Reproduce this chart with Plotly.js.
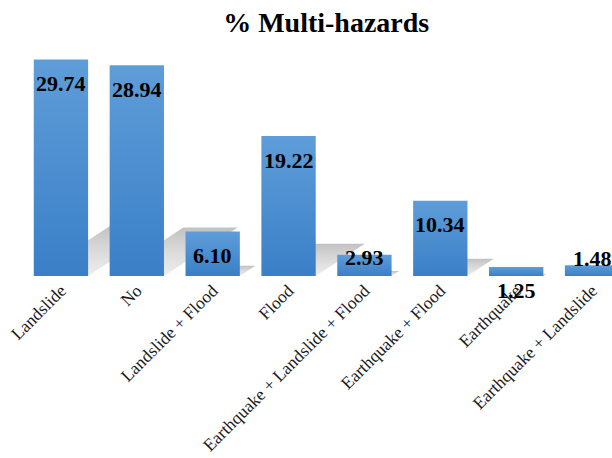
<!DOCTYPE html>
<html>
<head>
<meta charset="utf-8">
<script src="https://cdn.plot.ly/plotly-3.0.1.min.js"></script>
<style>
  html, body { margin: 0; padding: 0; background: #fff; }
  #chart { width: 612px; height: 458px; }
</style>
</head>
<body>
<div id="chart"></div>
<script>
// Share of each hazard combination (%)
const categories = [
  'Landslide',
  'No',
  'Landslide + Flood',
  'Flood',
  'Earthquake + Landslide + Flood',
  'Earthquake + Flood',
  'Earthquake',
  'Earthquake + Landslide'
];
const percentValues = [29.74, 28.94, 6.10, 19.22, 2.93, 10.34, 1.25, 1.48];

// Vertical nudge (px) of each value label relative to the bar top
const labelShift = [-24, -24, -24, -24, -3, -24, -24, 7];

const xIndex = categories.map((_, i) => i);
const barWidth = 0.716;
const xRange = [-0.5, 7.263];
const yRange = [0, 32];
const serif = 'Liberation Serif, Times New Roman, serif';

// Floor shadows: each bar's outline skewed to the right and flattened.
// They live on the base axes so the bars (on the overlay axes) sit above them.
const shadowSkew = 0.0336;   // x-units of slant per unit of value
const shadowHeight = 0.23;   // fraction of bar height
const shadowTraces = percentValues.map((v, i) => {
  const x0 = i - barWidth / 2, x1 = i + barWidth / 2;
  const s = shadowSkew * v, h = shadowHeight * v;
  return {
    type: 'scatter',
    mode: 'lines',
    x: [x0, x1, x1 + s, x0 + s, x0],
    y: [0, 0, h, h, 0],
    xaxis: 'x',
    yaxis: 'y',
    fill: 'toself',
    line: { width: 0, color: 'rgba(0,0,0,0)' },
    fillgradient: {
      type: 'vertical',
      colorscale: [[0, 'rgba(225,225,225,0.6)'], [1, 'rgba(190,190,190,0.95)']]
    },
    hoverinfo: 'skip',
    showlegend: false
  };
});

const barTrace = {
  type: 'bar',
  x: xIndex,
  y: percentValues,
  xaxis: 'x2',
  yaxis: 'y2',
  width: barWidth,
  marker: { color: '#4a8dd0', line: { width: 0 } },
  hoverinfo: 'skip',
  showlegend: false
};

const valueLabels = percentValues.map((v, i) => ({
  x: i,
  y: v,
  xref: 'x2',
  yref: 'y2',
  text: '<b>' + v.toFixed(2) + '</b>',
  showarrow: false,
  yanchor: 'middle',
  xanchor: 'center',
  yshift: labelShift[i],
  font: { family: serif, size: 22, color: '#000' }
}));

const layout = {
  width: 612,
  height: 458,
  margin: { l: 23, r: 0, t: 43, b: 182 },
  paper_bgcolor: '#fff',
  plot_bgcolor: '#fff',
  title: {
    text: '<b>% Multi-hazards</b>',
    x: 0.533,
    xref: 'container',
    xanchor: 'center',
    y: 0.952,
    yref: 'container',
    yanchor: 'middle',
    font: { family: serif, size: 28, color: '#000' }
  },
  xaxis: {
    range: xRange,
    tickvals: xIndex,
    ticktext: categories,
    tickangle: -45,
    ticks: '',
    showline: false,
    showgrid: false,
    zeroline: false,
    tickfont: { family: serif, size: 17.5, color: '#1a1a1a' },
    fixedrange: true
  },
  yaxis: {
    range: yRange,
    visible: false,
    showgrid: false,
    zeroline: false,
    fixedrange: true
  },
  xaxis2: {
    overlaying: 'x',
    range: xRange,
    visible: false,
    showgrid: false,
    zeroline: false,
    fixedrange: true
  },
  yaxis2: {
    overlaying: 'y',
    range: yRange,
    visible: false,
    showgrid: false,
    zeroline: false,
    fixedrange: true
  },
  annotations: valueLabels
};

Plotly.newPlot('chart', shadowTraces.concat([barTrace]), layout, { displayModeBar: false, staticPlot: true })
  .then(gd => {
    // Light-to-dark vertical gradient on each bar
    const svg = gd.querySelector('svg.main-svg');
    const ns = 'http://www.w3.org/2000/svg';
    let defs = svg.querySelector('defs');
    if (!defs) { defs = document.createElementNS(ns, 'defs'); svg.insertBefore(defs, svg.firstChild); }
    const grad = document.createElementNS(ns, 'linearGradient');
    grad.setAttribute('id', 'barFade');
    grad.setAttribute('x1', '0'); grad.setAttribute('y1', '0');
    grad.setAttribute('x2', '0'); grad.setAttribute('y2', '1');
    [['0%', '#5e9dd8'], ['100%', '#3a7fc7']].forEach(([off, col]) => {
      const stop = document.createElementNS(ns, 'stop');
      stop.setAttribute('offset', off);
      stop.setAttribute('stop-color', col);
      grad.appendChild(stop);
    });
    defs.appendChild(grad);
    gd.querySelectorAll('.barlayer .point path').forEach(p => {
      p.style.fill = 'url(#barFade)';
    });
  });
</script>
</body>
</html>
